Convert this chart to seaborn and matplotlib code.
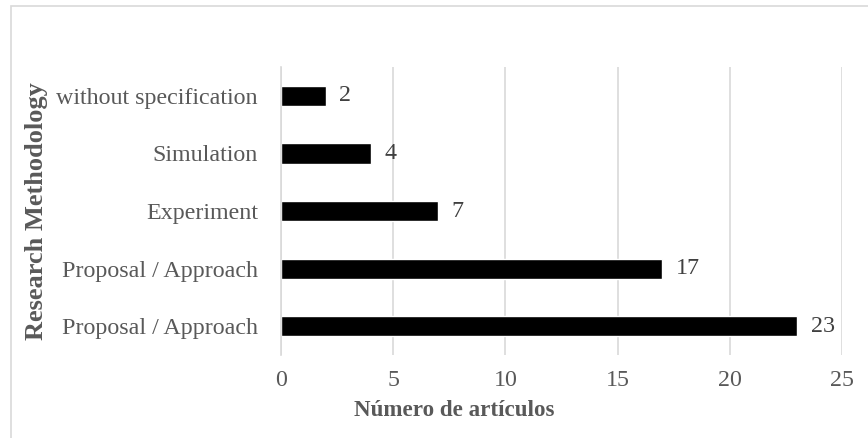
import matplotlib
matplotlib.use("Agg")
import matplotlib.pyplot as plt
from matplotlib.patches import Rectangle
import seaborn as sns

# Articles per research methodology (top to bottom)
categories = ["without specification", "Simulation", "Experiment",
              "Proposal / Approach", "Proposal / Approach"]
counts = [2, 4, 7, 17, 23]
x_ticks = [0, 5, 10, 15, 20, 25]

sns.set_theme(style="white")
plt.rcParams["font.family"] = ["Liberation Serif", "DejaVu Serif"]

fig = plt.figure(figsize=(8.68, 4.38), dpi=100)
ax = fig.add_axes([0.3237, 0.189, 0.6463, 0.658])

keys = [str(i) for i in range(len(categories))]
sns.barplot(x=counts, y=keys, orient="h", color="black", width=0.35,
            saturation=1, ax=ax)

ax.set_xlim(0, 25)
ax.set_xticks(x_ticks)
ax.set_yticks(range(len(categories)))
ax.set_yticklabels(categories)
ax.set_ylim(len(categories) - 0.5, -0.5)

ax.grid(axis="x", color="#d9d9d9", linewidth=1.2)
ax.set_axisbelow(True)
for side in ["top", "right", "bottom"]:
    ax.spines[side].set_visible(False)
ax.spines["left"].set_color("#d9d9d9")
ax.spines["left"].set_linewidth(1.2)
ax.tick_params(axis="both", length=0, labelsize=17.3, labelcolor="#595959")
ax.tick_params(axis="y", pad=16.5)
ax.tick_params(axis="x", pad=11)

for i, v in enumerate(counts):
    ax.text(v + 0.6, i, str(v), va="center", ha="left", fontsize=17.3,
            color="#404040")

ax.set_xlabel("")
ax.set_ylabel("")
fig.text(454 / 868, 1 - 410 / 438, "Número de artículos", ha="center",
         va="center", fontsize=16.6, fontweight="bold", color="#595959")
fig.text(37 / 868, 1 - 211 / 438, "Research Methodology", ha="center",
         va="center", rotation=90, fontsize=19, fontweight="bold",
         color="#595959")

# Light frame around the chart area
fig.patches.append(Rectangle((10.5 / 868, -0.1), 1.2, 1 - 5.5 / 438 + 0.1,
                             transform=fig.transFigure, fill=False,
                             edgecolor="#d9d9d9", linewidth=1.2))

fig.savefig("out.png", dpi=100)
